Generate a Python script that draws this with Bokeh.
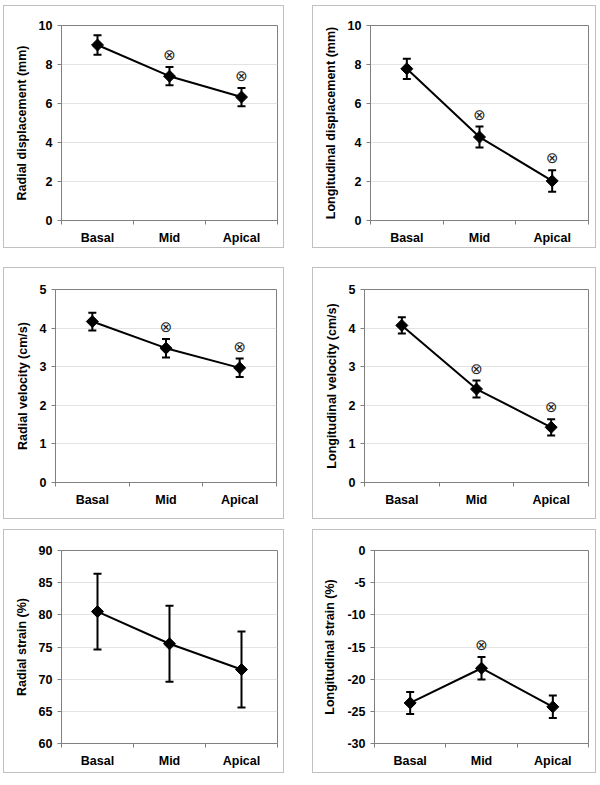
from math import pi
from bokeh.plotting import figure
from bokeh.layouts import column, row
from bokeh.models import ColumnDataSource, Whisker, FixedTicker, Range1d, TeeHead
from bokeh.core.properties import value
from bokeh.embed import file_html
from bokeh.resources import INLINE

categories = ["Basal", "Mid", "Apical"]

radial_disp_mean = [9.0, 7.4, 6.33]
radial_disp_sd = [0.5, 0.47, 0.47]
radial_disp_sig = [False, True, True]
radial_disp_ticks = [0, 2, 4, 6, 8, 10]

long_disp_mean = [7.78, 4.28, 2.03]
long_disp_sd = [0.52, 0.54, 0.55]
long_disp_sig = [False, True, True]
long_disp_ticks = [0, 2, 4, 6, 8, 10]

radial_vel_mean = [4.17, 3.48, 2.97]
radial_vel_sd = [0.23, 0.24, 0.24]
radial_vel_sig = [False, True, True]
radial_vel_ticks = [0, 1, 2, 3, 4, 5]

long_vel_mean = [4.07, 2.42, 1.43]
long_vel_sd = [0.21, 0.22, 0.21]
long_vel_sig = [False, True, True]
long_vel_ticks = [0, 1, 2, 3, 4, 5]

radial_strain_mean = [80.5, 75.5, 71.5]
radial_strain_sd = [5.9, 5.9, 5.9]
radial_strain_sig = [False, False, False]
radial_strain_ticks = [60, 65, 70, 75, 80, 85, 90]

long_strain_mean = [-23.7, -18.3, -24.3]
long_strain_sd = [1.7, 1.75, 1.75]
long_strain_sig = [False, True, False]
long_strain_ticks = [-30, -25, -20, -15, -10, -5, 0]

FONT = "Liberation Sans"
FS = "12.5px"


def make_panel(ylabel, means, sds, sig, ticks, width, height, left, right, top, bottom):
    xs = list(range(1, len(categories) + 1))
    p = figure(width=width, height=height, output_backend="svg", toolbar_location=None,
               x_range=Range1d(0.5, len(categories) + 0.5),
               y_range=Range1d(ticks[0], ticks[-1]),
               min_border_left=left, min_border_right=right,
               min_border_top=top, min_border_bottom=bottom)
    p.styles = {"border": "1px solid #c0c0c0", "box-sizing": "border-box"}
    p.background_fill_color = "white"
    p.border_fill_color = "white"
    p.outline_line_color = "#808080"
    p.outline_line_width = 1
    p.xgrid.grid_line_color = None
    p.ygrid.grid_line_color = "#e3e3e3"
    p.ygrid.grid_line_width = 1

    # y axis
    p.yaxis.ticker = FixedTicker(ticks=ticks)
    p.yaxis.major_label_overrides = {t: str(t) for t in ticks}
    p.yaxis.axis_line_color = "#808080"
    p.yaxis.major_tick_line_color = "#808080"
    p.yaxis.major_tick_out = 4
    p.yaxis.major_tick_in = 0
    p.yaxis.minor_tick_line_color = None
    p.yaxis.major_label_text_font = FONT
    p.yaxis.major_label_text_font_style = "bold"
    p.yaxis.major_label_text_font_size = FS
    p.yaxis.major_label_text_color = "black"
    p.yaxis.major_label_standoff = 5
    p.yaxis.axis_label = ylabel
    p.yaxis.axis_label_text_font = FONT
    p.yaxis.axis_label_text_font_style = "bold"
    p.yaxis.axis_label_text_font_size = FS
    p.yaxis.axis_label_text_color = "black"
    p.yaxis.axis_label_standoff = 7

    # x axis
    bounds = [x - 0.5 for x in xs] + [xs[-1] + 0.5]
    p.xaxis.ticker = FixedTicker(ticks=xs, minor_ticks=bounds)
    p.xaxis.major_label_overrides = {x: c for x, c in zip(xs, categories)}
    p.xaxis.axis_line_color = "#808080"
    p.xaxis.major_tick_line_color = None
    p.xaxis.major_tick_out = 0
    p.xaxis.major_tick_in = 0
    p.xaxis.minor_tick_line_color = "#808080"
    p.xaxis.minor_tick_out = 4
    p.xaxis.minor_tick_in = 0
    p.xaxis.major_label_text_font = FONT
    p.xaxis.major_label_text_font_style = "bold"
    p.xaxis.major_label_text_font_size = FS
    p.xaxis.major_label_text_color = "black"
    p.xaxis.major_label_standoff = 6

    upper = [m + s for m, s in zip(means, sds)]
    lower = [m - s for m, s in zip(means, sds)]
    src = ColumnDataSource(dict(x=xs, y=means, upper=upper, lower=lower))
    w = Whisker(source=src, base="x", upper="upper", lower="lower",
                line_color="black", line_width=2,
                upper_head=TeeHead(size=8, line_color="black", line_width=2),
                lower_head=TeeHead(size=8, line_color="black", line_width=2))
    p.add_layout(w)
    p.line("x", "y", source=src, line_color="black", line_width=2)
    p.scatter("x", "y", source=src, marker="square", angle=pi / 4, size=8.5,
              fill_color="black", line_color="black")

    sx = [x for x, s in zip(xs, sig) if s]
    sy = [u for u, s in zip(upper, sig) if s]
    if sx:
        ssrc = ColumnDataSource(dict(x=sx, y=sy, t=["\u2297"] * len(sx)))
        p.text("x", "y", text="t", source=ssrc, y_offset=-12,
               text_align="center", text_baseline="middle",
               text_font=value("DejaVu Sans"), text_font_size="15px",
               text_color="#222222")
    return p


W1, W2 = 281, 284
p1 = make_panel("Radial displacement (mm)", radial_disp_mean, radial_disp_sd, radial_disp_sig,
                radial_disp_ticks, W1, 243, 57, 8, 19, 29)
p2 = make_panel("Longitudinal displacement (mm)", long_disp_mean, long_disp_sd, long_disp_sig,
                long_disp_ticks, W2, 243, 57, 9, 19, 29)
p3 = make_panel("Radial velocity (cm/s)", radial_vel_mean, radial_vel_sd, radial_vel_sig,
                radial_vel_ticks, W1, 252, 51, 9, 20, 38)
p4 = make_panel("Longitudinal velocity (cm/s)", long_vel_mean, long_vel_sd, long_vel_sig,
                long_vel_ticks, W2, 252, 51, 9, 21, 38)
p5 = make_panel("Radial strain (%)", radial_strain_mean, radial_strain_sd, radial_strain_sig,
                radial_strain_ticks, W1, 244, 57, 8, 20, 31)
p6 = make_panel("Longitudinal strain (%)", long_strain_mean, long_strain_sd, long_strain_sig,
                long_strain_ticks, W2, 244, 61, 9, 20, 29)

r1 = row(p1, p2, spacing=28)
r2 = row(p3, p4, spacing=28)
r2.margin = (19, 0, 10, 0)
r3 = row(p5, p6, spacing=28)
layout = column(r1, r2, r3, spacing=0)
layout.margin = (5, 0, 0, 3)

open("out.html", "w").write(file_html(layout, INLINE))
